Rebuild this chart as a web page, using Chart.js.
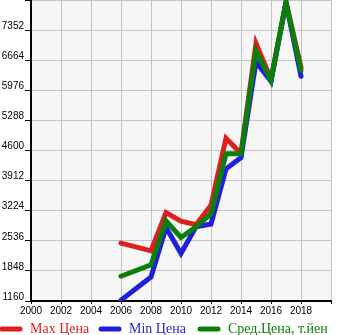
<!DOCTYPE html>
<html>
<head>
<meta charset="utf-8">
<script src="https://cdn.jsdelivr.net/npm/chart.js@4"></script>
<style>
  html, body { margin: 0; padding: 0; background: #fff; }
  #wrap { width: 345px; height: 335px; }
</style>
</head>
<body>
<div id="wrap"><canvas id="c" width="345" height="335"></canvas></div>
<script>
// Price history by year (thousand yen)
const years = [2006, 2008, 2009, 2010, 2011, 2012, 2013, 2014, 2015, 2016, 2017, 2018];
const maxPrice = [2483, 2307, 3180, 2985, 2903, 3350, 4880, 4530, 7046, 6230, 7990, 6500];
const minPrice = [1180, 1710, 2841, 2245, 2857, 2920, 4180, 4440, 6625, 6182, 7980, 6296];
const avgPrice = [1726, 1985, 2990, 2612, 2857, 3150, 4524, 4524, 6877, 6205, 7990, 6434];

const seriesNames = ['Max Цена', 'Min Цена', 'Сред.Цена, т.йен'];
const seriesColors = ['#dd1f1f', '#1f1fdd', '#0a800a'];

const yTicks = [1160, 1848, 2536, 3224, 3912, 4600, 5288, 5976, 6664, 7352, 8040];
const xTicks = [2000, 2002, 2004, 2006, 2008, 2010, 2012, 2014, 2016, 2018, 2020];

const toPoints = vals => years.map((y, i) => ({ x: y, y: vals[i] }));

const plotBg = {
  id: 'plotBg',
  beforeDraw(chart) {
    const { ctx, chartArea: a } = chart;
    ctx.save();
    ctx.fillStyle = '#f6f6f6';
    ctx.fillRect(a.left, a.top, a.right - a.left, a.bottom - a.top);
    ctx.restore();
  }
};

// Legend row along the bottom edge: a short thick line, then the series name in its colour
const bottomLegend = {
  id: 'bottomLegend',
  afterDraw(chart) {
    const ctx = chart.ctx;
    const y = chart.height - 6;
    ctx.save();
    ctx.font = '14px "Liberation Serif"';
    ctx.textBaseline = 'middle';
    ctx.lineCap = 'round';
    ctx.lineWidth = 5;
    chart.data.datasets.forEach((ds, i) => {
      const x0 = i * 99;
      ctx.strokeStyle = ds.borderColor;
      ctx.beginPath();
      ctx.moveTo(x0 + 2, y);
      ctx.lineTo(x0 + 20, y);
      ctx.stroke();
      ctx.fillStyle = ds.borderColor;
      ctx.fillText(ds.label, x0 + 30, y);
    });
    ctx.restore();
  }
};

const mk = (vals, i, order) => ({
  label: seriesNames[i],
  data: toPoints(vals),
  borderColor: seriesColors[i],
  backgroundColor: seriesColors[i],
  borderWidth: 5,
  borderCapStyle: 'round',
  borderJoinStyle: 'miter',
  pointRadius: 0,
  tension: 0,
  order: order
});

new Chart(document.getElementById('c'), {
  type: 'line',
  data: {
    datasets: [mk(maxPrice, 0, 3), mk(minPrice, 1, 2), mk(avgPrice, 2, 1)]
  },
  plugins: [plotBg, bottomLegend],
  options: {
    responsive: false,
    animation: false,
    layout: { padding: { left: 0, right: 0, top: 0, bottom: 17 } },
    plugins: {
      tooltip: { enabled: false },
      legend: { display: false }
    },
    scales: {
      x: {
        type: 'linear',
        min: 2000,
        max: 2020,
        afterBuildTicks: axis => { axis.ticks = xTicks.map(v => ({ value: v })); },
        afterFit: axis => { axis.paddingRight = 14; },
        ticks: {
          color: '#000',
          font: { family: 'Liberation Sans', size: 10 },
          padding: 1,
          maxRotation: 0,
          callback: v => (v === 2020 ? '' : String(v))
        },
        grid: { color: '#c4c4c4', lineWidth: 1, tickColor: '#000', tickLength: 3 },
        border: { color: '#000', width: 2 }
      },
      y: {
        type: 'linear',
        min: 1160,
        max: 8040,
        afterBuildTicks: axis => { axis.ticks = yTicks.map(v => ({ value: v })); },
        afterFit: axis => { axis.width = 31; axis.paddingTop = 0; },
        ticks: {
          color: '#000',
          font: { family: 'Liberation Sans', size: 10 },
          padding: 1,
          labelOffset: -4,
          callback: v => (v === 8040 ? '' : String(v))
        },
        grid: { color: '#c4c4c4', lineWidth: 1, tickColor: '#000', tickLength: 6 },
        border: { color: '#000', width: 2 }
      }
    }
  }
});
</script>
</body>
</html>
